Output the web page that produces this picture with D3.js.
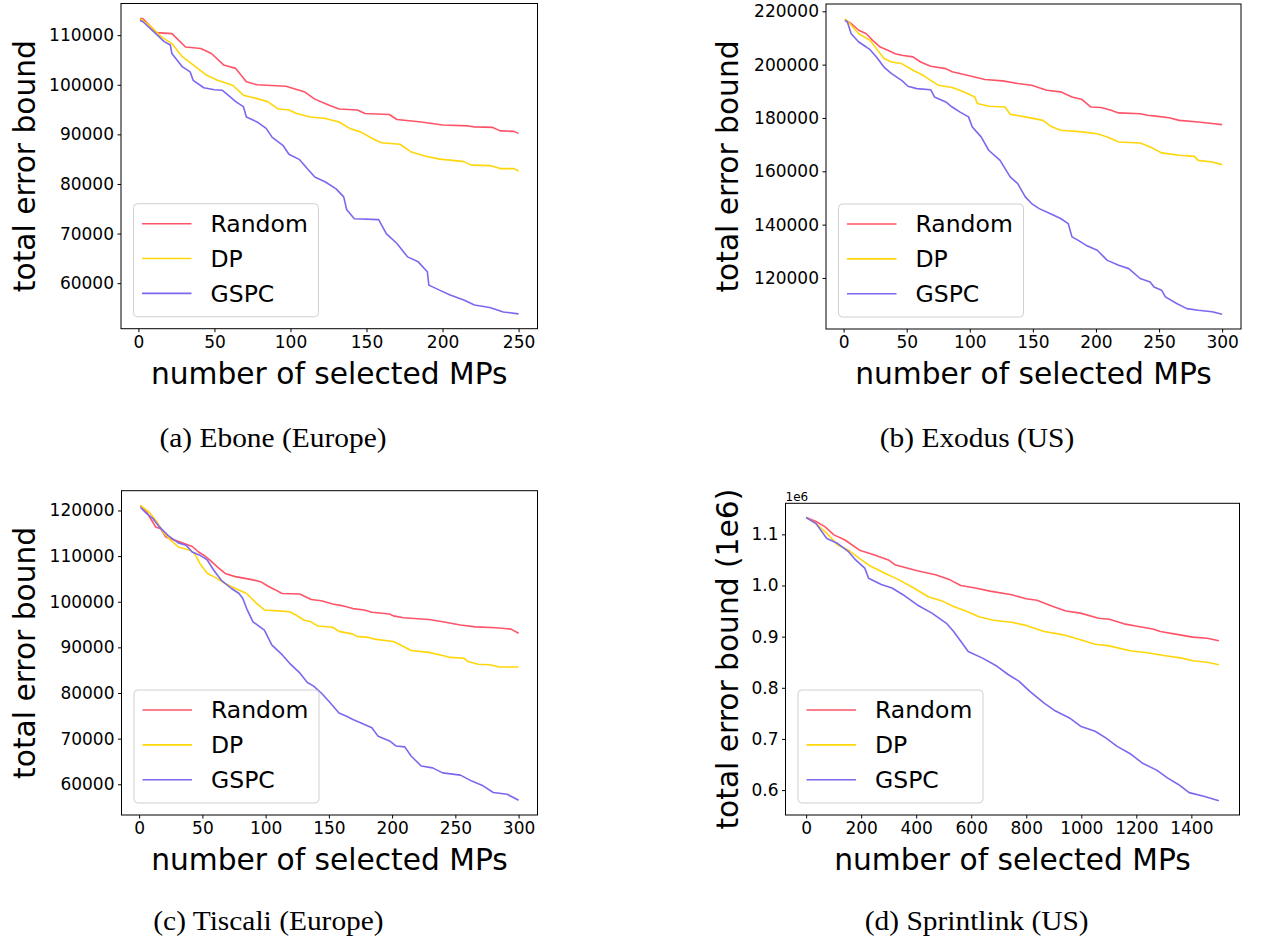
<!DOCTYPE html>
<html>
<head>
<meta charset="utf-8">
<script src="https://cdn.jsdelivr.net/npm/d3@7"></script>
<style>
  body { margin: 0; background: #fff; }
  svg { display: block; font-family: "DejaVu Sans", sans-serif; }
</style>
</head>
<body>
<div id="chart"></div>
<script>
// series names and colours
const seriesNames = ["Random", "DP", "GSPC"];
const seriesColors = ["#ff5468", "#ffd60a", "#7b68ee"];

// (a) Ebone
const randomEbone = [[1,113400],[3,113300],[12,110500],[22,110300],[31,107600],[41,107300],[48,106300],[56,104000],[64,103300],[71,100600],[78,100000],[97,99700],[109,98600],[116,97100],[125,95900],[132,95100],[144,94900],[149,94200],[165,94000],[170,93000],[186,92500],[200,91900],[217,91700],[221,91500],[233,91400],[238,90700],[247,90600],[250,90200]];
const dpEbone = [[1,113300],[8,111800],[15,109700],[22,108300],[29,105600],[36,104000],[45,101900],[52,100900],[62,99900],[69,97900],[78,97200],[85,96600],[92,95100],[99,94900],[104,94200],[113,93500],[123,93200],[132,92500],[139,91200],[146,90500],[156,88800],[160,88300],[172,88000],[179,86500],[189,85600],[198,85000],[205,84800],[214,84500],[219,83800],[231,83700],[238,83100],[247,83100],[250,82600]];
const gspcEbone = [[1,113000],[3,112700],[10,110700],[17,108700],[21,108000],[22,106300],[29,103600],[34,102600],[36,100900],[43,99400],[50,99000],[55,98900],[59,97900],[64,96600],[69,95600],[71,93500],[78,92500],[84,91200],[88,89400],[95,87800],[99,86000],[106,84900],[111,83100],[116,81400],[123,80400],[130,79000],[135,77400],[137,74800],[142,73000],[158,72800],[163,70000],[170,68000],[177,65300],[184,64300],[190,62300],[191,59600],[198,58600],[205,57600],[214,56600],[221,55600],[231,55100],[240,54200],[250,53800]];
const xTicksEbone = [0, 50, 100, 150, 200, 250];
const yTicksEbone = [60000, 70000, 80000, 90000, 100000, 110000];

// (b) Exodus
const randomExodus = [[1,217000],[6,215400],[12,212900],[18,211600],[23,209100],[29,206600],[35,205400],[41,204100],[46,203500],[55,202900],[61,201000],[69,199400],[81,198500],[86,197300],[98,196000],[112,194400],[126,193900],[138,192900],[149,192300],[161,190400],[172,189800],[181,187900],[189,186900],[196,184100],[204,183900],[212,182900],[218,181900],[235,181600],[241,181000],[249,180600],[258,180100],[266,179100],[281,178500],[292,177900],[300,177500]];
const dpExodus = [[1,217200],[6,214800],[12,211600],[21,209100],[26,206000],[32,202300],[38,201000],[46,200400],[55,197900],[63,196000],[69,194100],[75,192300],[86,191400],[95,189800],[104,187900],[106,185400],[115,184400],[128,184100],[132,181400],[144,180400],[158,179100],[164,176900],[172,175400],[189,174800],[201,174100],[209,172900],[218,171000],[235,170600],[243,169100],[252,166900],[266,166000],[278,165600],[281,164100],[292,163500],[300,162500]];
const gspcExodus = [[1,216600],[3,216000],[6,211600],[12,208500],[18,206600],[21,205600],[26,202900],[32,199100],[38,196600],[46,194100],[51,191900],[58,191000],[69,190600],[72,187900],[81,186000],[86,184100],[92,182300],[99,180400],[102,176600],[109,172900],[115,167900],[124,164100],[132,157900],[138,155400],[144,150400],[149,147900],[155,146000],[164,144100],[172,142300],[178,140400],[181,135400],[186,134100],[192,132300],[201,130400],[209,126600],[218,124800],[226,123500],[235,119800],[243,118500],[246,116600],[252,115400],[255,112900],[264,110400],[272,108500],[281,107900],[292,107300],[300,106400]];
const xTicksExodus = [0, 50, 100, 150, 200, 250, 300];
const yTicksExodus = [120000, 140000, 160000, 180000, 200000, 220000];

// (c) Tiscali
const randomTiscali = [[1,121100],[6,119600],[10,117800],[13,116400],[17,116000],[21,114200],[28,113500],[34,112900],[42,112100],[47,110900],[51,110200],[56,109100],[62,107600],[68,106200],[76,105500],[88,104900],[96,104400],[102,103400],[107,102700],[113,101800],[127,101700],[136,100500],[144,100200],[153,99500],[161,99100],[169,98500],[178,98200],[184,97700],[198,97300],[201,96900],[209,96500],[229,96100],[240,95600],[254,94900],[266,94500],[282,94300],[294,94000],[300,93100]];
const dpTiscali = [[1,121100],[8,119600],[14,117500],[20,114900],[25,113500],[31,112000],[40,111300],[44,110500],[48,108400],[54,106200],[59,105500],[68,104000],[76,102900],[85,101800],[93,99600],[99,98200],[110,98000],[119,97800],[124,97100],[130,96000],[136,95600],[141,94700],[153,94400],[158,93500],[169,92900],[172,92400],[181,92200],[186,91800],[201,91300],[209,90200],[215,89300],[229,88900],[240,88200],[246,87800],[257,87600],[260,86900],[268,86300],[277,86200],[285,85700],[300,85700]];
const gspcTiscali = [[1,120700],[6,119300],[11,118200],[16,116400],[23,114500],[31,112900],[37,112400],[42,110900],[48,110200],[54,109100],[59,106900],[65,104700],[73,102900],[79,101800],[82,100700],[85,98500],[90,95600],[99,93800],[105,90500],[113,88400],[119,86500],[127,84400],[133,82300],[138,81500],[144,80000],[150,78200],[158,75600],[164,74900],[169,74200],[175,73500],[184,72400],[189,70500],[198,69500],[203,68400],[210,68200],[215,66200],[223,64000],[232,63600],[240,62500],[254,62000],[263,60700],[271,59800],[280,58200],[291,57800],[300,56500]];
const xTicksTiscali = [0, 50, 100, 150, 200, 250, 300];
const yTicksTiscali = [60000, 70000, 80000, 90000, 100000, 110000, 120000];

// (d) Sprintlink, values in 1e6
const randomSprint = [[0,1.133],[36,1.125],[68,1.115],[101,1.099],[141,1.089],[194,1.069],[246,1.060],[299,1.050],[325,1.040],[404,1.029],[470,1.021],[523,1.011],[562,1.000],[615,0.995],[668,0.989],[747,0.982],[799,0.974],[839,0.971],[892,0.960],[944,0.950],[997,0.946],[1063,0.936],[1102,0.934],[1155,0.925],[1208,0.920],[1260,0.915],[1287,0.910],[1353,0.904],[1405,0.899],[1458,0.897],[1500,0.892]];
const dpSprint = [[0,1.133],[36,1.121],[75,1.102],[115,1.079],[154,1.069],[194,1.053],[233,1.038],[286,1.024],[338,1.011],[391,0.995],[444,0.978],[497,0.969],[536,0.959],[589,0.948],[628,0.939],[681,0.932],[747,0.928],[799,0.922],[865,0.910],[931,0.904],[997,0.894],[1050,0.885],[1102,0.882],[1181,0.872],[1234,0.869],[1300,0.863],[1366,0.858],[1405,0.853],[1458,0.850],[1500,0.845]];
const gspcSprint = [[0,1.133],[36,1.121],[75,1.092],[115,1.082],[154,1.066],[180,1.050],[213,1.034],[227,1.014],[273,1.002],[312,0.995],[352,0.982],[404,0.962],[457,0.946],[510,0.926],[536,0.910],[562,0.891],[589,0.871],[641,0.858],[694,0.842],[734,0.826],[773,0.813],[813,0.793],[865,0.770],[905,0.755],[957,0.741],[997,0.725],[1050,0.715],[1089,0.702],[1129,0.686],[1181,0.670],[1221,0.653],[1274,0.639],[1313,0.624],[1353,0.611],[1392,0.595],[1445,0.588],[1500,0.579]];
const xTicksSprint = [0, 200, 400, 600, 800, 1000, 1200, 1400];
const yTicksSprint = [0.6, 0.7, 0.8, 0.9, 1.0, 1.1];

const captions = ["(a) Ebone (Europe)", "(b) Exodus (US)", "(c) Tiscali (Europe)", "(d) Sprintlink (US)"];
const xLabel = "number of selected MPs";
const yLabels = ["total error bound", "total error bound", "total error bound", "total error bound (1e6)"];

const width = 1266, height = 938;

const panels = [
  { series: [randomEbone, dpEbone, gspcEbone], xt: xTicksEbone, yt: yTicksEbone, fmt: d3.format("d"),
    box: { left: 121, right: 537.5, top: 3.5, bottom: 328.7 }, ylabX: 35, capX: 273, capY: 447 },
  { series: [randomExodus, dpExodus, gspcExodus], xt: xTicksExodus, yt: yTicksExodus, fmt: d3.format("d"),
    box: { left: 826, right: 1241, top: 4, bottom: 329 }, ylabX: 738, capX: 977, capY: 447 },
  { series: [randomTiscali, dpTiscali, gspcTiscali], xt: xTicksTiscali, yt: yTicksTiscali, fmt: d3.format("d"),
    box: { left: 121.5, right: 537.5, top: 490.7, bottom: 815 }, ylabX: 35, capX: 268.5, capY: 929.5 },
  { series: [randomSprint, dpSprint, gspcSprint], xt: xTicksSprint, yt: yTicksSprint, fmt: d3.format(".1f"),
    box: { left: 785.5, right: 1239.5, top: 503.3, bottom: 815 }, ylabX: 738, capX: 976.7, capY: 929.5, offset: "1e6" }
];

const svg = d3.select("#chart").append("svg")
  .attr("width", width)
  .attr("height", height);

svg.append("rect").attr("width", width).attr("height", height).attr("fill", "#fff");

// matplotlib-style 5% margins
function padded(ext) {
  const p = (ext[1] - ext[0]) * 0.05;
  return [ext[0] - p, ext[1] + p];
}

panels.forEach((p, i) => {
  const b = p.box;
  const all = p.series.flat();
  const x = d3.scaleLinear().domain(padded(d3.extent(all, d => d[0]))).range([b.left, b.right]);
  const y = d3.scaleLinear().domain(padded(d3.extent(all, d => d[1]))).range([b.bottom, b.top]);

  const g = svg.append("g");

  const line = d3.line().x(d => x(d[0])).y(d => y(d[1]));
  p.series.forEach((s, k) => {
    g.append("path")
      .datum(s)
      .attr("fill", "none")
      .attr("stroke", seriesColors[k])
      .attr("stroke-width", 1.6)
      .attr("stroke-linejoin", "round")
      .attr("d", line);
  });

  // axes
  const xAxis = g.append("g")
    .attr("transform", `translate(0,${b.bottom})`)
    .call(d3.axisBottom(x).tickValues(p.xt).tickSize(3.5).tickPadding(3.5).tickFormat(d3.format("d")));
  const yAxis = g.append("g")
    .attr("transform", `translate(${b.left},0)`)
    .call(d3.axisLeft(y).tickValues(p.yt).tickSize(3.5).tickPadding(3.5).tickFormat(p.fmt));
  [xAxis, yAxis].forEach(a => {
    a.select(".domain").remove();
    a.selectAll("text").attr("font-size", 17).attr("font-family", "DejaVu Sans").attr("fill", "#000");
    a.selectAll("line").attr("stroke", "#000").attr("stroke-width", 1);
  });

  // frame
  g.append("rect")
    .attr("x", b.left).attr("y", b.top)
    .attr("width", b.right - b.left).attr("height", b.bottom - b.top)
    .attr("fill", "none").attr("stroke", "#000").attr("stroke-width", 1);

  if (p.offset) {
    g.append("text").attr("x", b.left).attr("y", b.top - 2.6)
      .attr("font-size", 12).text(p.offset);
  }

  // axis labels
  g.append("text")
    .attr("x", (b.left + b.right) / 2).attr("y", b.bottom + 55.3)
    .attr("text-anchor", "middle").attr("font-size", 29.7)
    .text(xLabel);
  g.append("text")
    .attr("transform", `translate(${p.ylabX},${(b.top + b.bottom) / 2}) rotate(-90)`)
    .attr("text-anchor", "middle").attr("font-size", 29.7)
    .text(yLabels[i]);

  // legend
  const lx = b.left + 12.5, lh = 113, ly = b.bottom - 12 - lh;
  const legend = g.append("g").attr("transform", `translate(${lx},${ly})`);
  legend.append("rect")
    .attr("width", 185).attr("height", lh).attr("rx", 4)
    .attr("fill", "#fff").attr("fill-opacity", 0.8)
    .attr("stroke", "#d0d0d0").attr("stroke-width", 1);
  seriesNames.forEach((n, k) => {
    const yy = 20 + k * 34.85;
    legend.append("line")
      .attr("x1", 8.5).attr("x2", 58).attr("y1", yy).attr("y2", yy)
      .attr("stroke", seriesColors[k]).attr("stroke-width", 1.6);
    legend.append("text")
      .attr("x", 77).attr("y", yy + 8.4)
      .attr("font-size", 23.5).text(n);
  });

  // subfigure caption (Computer Modern is wider than Liberation Serif)
  const cap = svg.append("text")
    .attr("x", p.capX).attr("y", p.capY)
    .attr("text-anchor", "middle")
    .attr("font-family", "Liberation Serif, serif")
    .attr("font-size", 26.5)
    .text(captions[i]);
  const w = cap.node().getComputedTextLength();
  cap.attr("textLength", w * 1.11).attr("lengthAdjust", "spacingAndGlyphs");
});
</script>
</body>
</html>
